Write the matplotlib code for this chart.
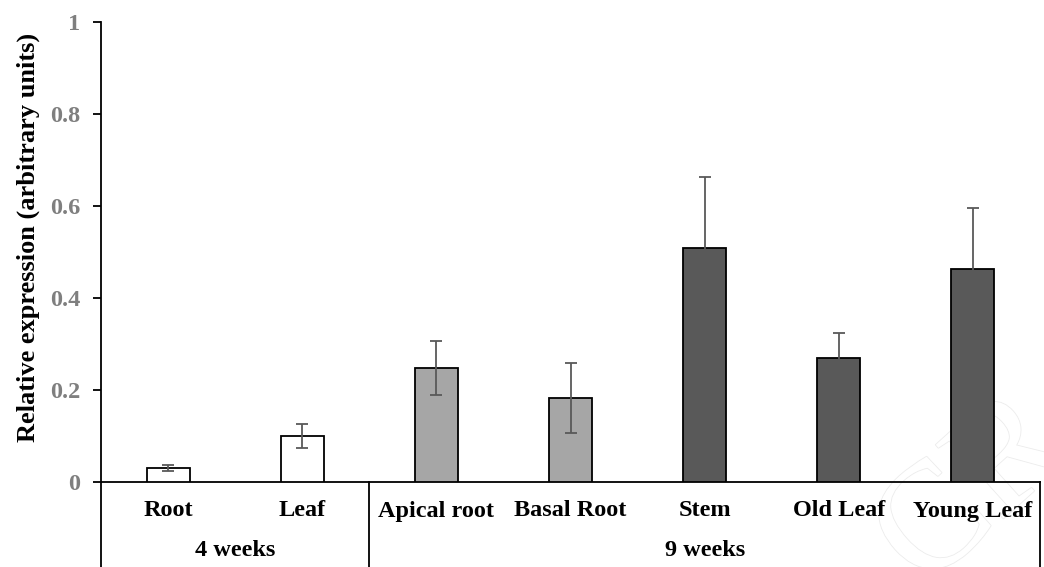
import numpy as np
import matplotlib.pyplot as plt
from matplotlib import patheffects

plt.rcParams['font.family'] = ['Liberation Serif', 'DejaVu Serif']
plt.rcParams['font.weight'] = 'bold'

# ---- data ----
tissues = ['Root', 'Leaf', 'Apical root', 'Basal Root', 'Stem', 'Old Leaf', 'Young Leaf']
expression = [0.031, 0.100, 0.248, 0.183, 0.509, 0.269, 0.463]
errors = [0.006, 0.027, 0.059, 0.076, 0.153, 0.056, 0.132]
bar_colors = ['white', 'white', '#a6a6a6', '#a6a6a6', '#595959', '#595959', '#595959']
groups = ['4 weeks', '9 weeks']
group_sizes = [2, 5]
y_ticks = [0, 0.2, 0.4, 0.6, 0.8, 1]
y_ticklabels = ['0', '0.2', '0.4', '0.6', '0.8', '1']

W, H = 1044, 567
fig = plt.figure(figsize=(W / 100, H / 100), dpi=100)
ax = fig.add_axes([101 / W, 1 - 482 / H, 939 / W, 460 / H])

x = np.arange(len(tissues))
ax.bar(x, expression, width=0.32, color=bar_colors, edgecolor='black', linewidth=1.3,
       yerr=errors, zorder=3,
       error_kw=dict(ecolor='#595959', elinewidth=1.3, capsize=4, capthick=1.3, zorder=4))

ax.set_xlim(-0.5, len(tissues) - 0.5)
ax.set_ylim(0, 1)
ax.set_yticks(y_ticks)
ax.set_yticklabels(y_ticklabels, color='#7f7f7f', fontsize=17.5, fontweight='bold')
ax.tick_params(axis='y', direction='out', length=6, width=1.3, pad=9)
ax.set_xticks([])

for side in ['top', 'right']:
    ax.spines[side].set_visible(False)
ax.spines['left'].set_linewidth(1.3)
ax.spines['bottom'].set_linewidth(1.3)

# two-level category axis below the bars
bottom = -85 / 460
edges = np.concatenate([[0], np.cumsum(group_sizes)]) - 0.5
for e in edges:
    ax.plot([e, e], [0, bottom], color='black', lw=1.3, clip_on=False)
for xi, name in zip(x, tissues):
    ax.text(xi, -29 / 460, name, ha='center', va='center', fontsize=17.5,
            fontweight='bold', clip_on=False, zorder=5)
for i, g in enumerate(groups):
    ax.text((edges[i] + edges[i + 1]) / 2, -69 / 460, g, ha='center', va='center',
            fontsize=17.5, fontweight='bold', clip_on=False, zorder=5)

fig.text(28 / W, 1 - 237 / H, 'Relative expression (arbitrary units)', rotation=90,
         ha='center', va='center', fontsize=19, fontweight='bold')

# faint watermark in the corner, kept behind the bars and labels
wm_x = (975 - 101) / 939 * 7 - 0.5
wm_y = (482 - 495) / 460
ax.text(wm_x, wm_y, 'CR', rotation=42, ha='center', va='center',
        fontsize=110, color='white', fontweight='normal', zorder=0, clip_on=False,
        path_effects=[patheffects.withStroke(linewidth=1.2, foreground='#ececec')])

fig.savefig('out.png', dpi=100)
